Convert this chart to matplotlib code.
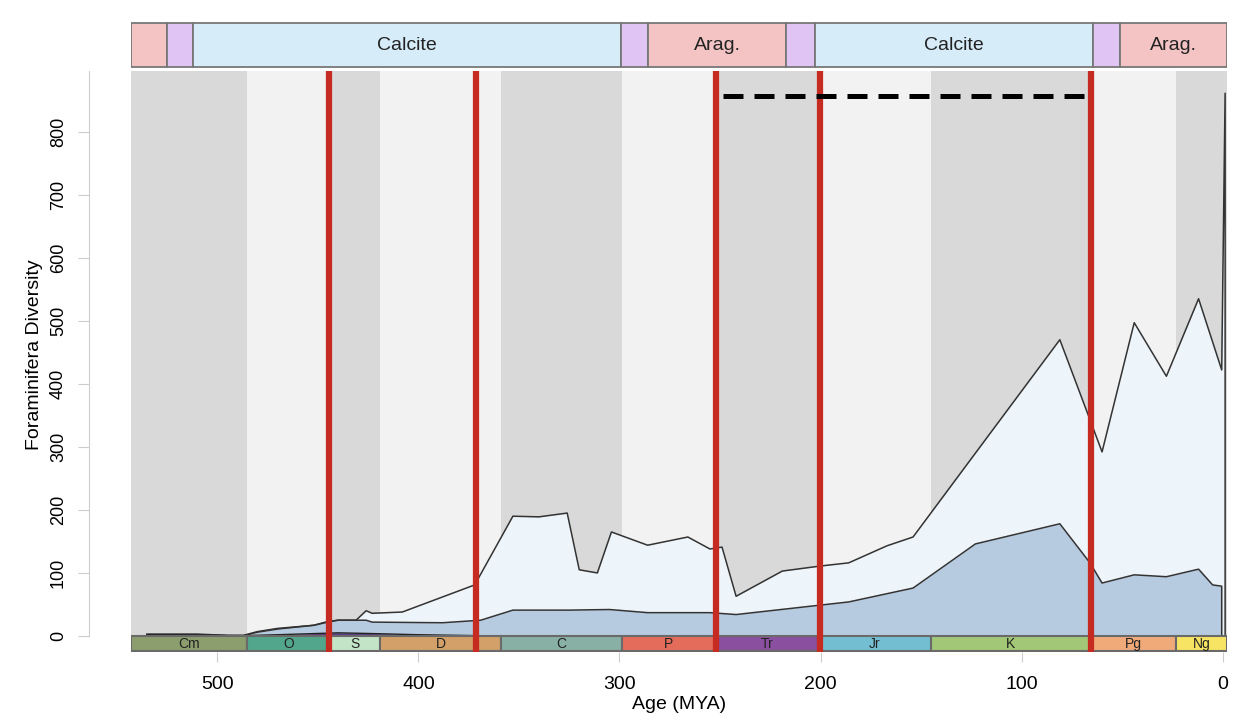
import matplotlib.pyplot as plt
from matplotlib.patches import Rectangle

plt.rcParams['font.family'] = ['Liberation Sans', 'DejaVu Sans']

# geological periods (start, end, label, colour)
per_start = [541, 485.4, 443.8, 419.2, 358.9, 298.9, 251.9, 201.3, 145.0, 66.0, 23.0]
per_end = [485.4, 443.8, 419.2, 358.9, 298.9, 251.9, 201.3, 145.0, 66.0, 23.0, 0]
per_lab = ['Cm', 'O', 'S', 'D', 'C', 'P', 'Tr', 'Jr', 'K', 'Pg', 'Ng']
per_col = ['#8c9e6e', '#52a68b', '#c4e4c8', '#d2a068', '#88b0a4', '#e36d5a',
           '#8b4f9f', '#73bfd1', '#a2c877', '#f0aa7a', '#f7e463']

# sea chemistry bar
chem_start = [541, 525, 512, 299, 286, 217, 203, 64.5, 51]
chem_end = [525, 512, 299, 286, 217, 203, 64.5, 51, 0]
chem_lab = ['', '', 'Calcite', '', 'Arag.', '', 'Calcite', '', 'Arag.']
chem_col = ['#f4c4c4', '#e0c4f4', '#d6ecf9', '#e0c4f4', '#f4c4c4',
            '#e0c4f4', '#d6ecf9', '#e0c4f4', '#f4c4c4']

# mass extinctions
extinctions = [444.5, 371.5, 252, 200.5, 65.5]

# diversity curves
age_tot = [535, 510, 495, 487, 480, 470, 452, 445, 440, 431, 426, 423, 408, 372,
           353, 340, 326, 320, 311, 304, 286, 266, 255, 249, 242, 219, 200,
           186, 167, 154, 123, 81, 66, 60, 44, 28, 12, 0.5, -1.2]
div_tot = [3, 3, 1, 1, 7, 12, 17, 23, 25, 25, 40, 36, 38, 81,
           190, 189, 195, 105, 100, 165, 144, 157, 138, 141, 63, 103, 111,
           116, 143, 157, 290, 470, 343, 292, 497, 412, 535, 422, 861]

age_mid = [535, 510, 495, 487, 480, 470, 452, 445, 440, 431, 426, 423, 388, 369,
           353, 340, 325, 305, 286, 255, 242, 200, 186, 154, 123, 81, 66,
           60, 44, 28, 12, 5, 0.5]
div_mid = [2, 2, 0.5, 0.5, 6, 11, 17, 22, 25, 25, 25, 22, 21, 25,
           41, 41, 41, 42, 37, 37, 34, 49, 54, 76, 146, 178, 116,
           84, 97, 94, 106, 81, 79]

age_low = [535, 487, 470, 450, 440, 425, 400, 380, 360, 0]
div_low = [2, 0.5, 2, 4, 5, 4, 2, 1, 0, 0]

xmin, xmax = 542.9, -2.0
ymin, ymax = -25.4, 896.3

fig = plt.figure(figsize=(12.41, 7.25), dpi=100)
ax = fig.add_axes([0.1056, 0.1007, 0.8829, 0.8014])
top = fig.add_axes([0.1056, 0.9062, 0.8829, 0.0634])

# alternating shading per period
for i in range(len(per_start)):
    c = '#d9d9d9' if i % 2 == 0 else '#f2f2f2'
    ax.axvspan(per_start[i] if i > 0 else xmin, per_end[i] if i < len(per_end) - 1 else xmax,
               color=c, lw=0, zorder=0)

ax.fill_between(age_tot, 0, div_tot, color='#eef5fa', lw=0, zorder=1)
ax.fill_between(age_mid, 0, div_mid, color='#b7cbe0', lw=0, zorder=2)
ax.fill_between(age_low, 0, div_low, color='#5e3c8a', lw=0, zorder=3)
# outline of the total polygon, closed down the right edge
ax.plot(age_tot + [age_tot[-1]], div_tot + [0], color='#333333', lw=1.1, zorder=4)
ax.plot(age_mid + [age_mid[-1]], div_mid + [0], color='#333333', lw=1.1, zorder=4)
ax.plot(age_low, div_low, color='#222222', lw=1.0, zorder=4)

# period bar
for i in range(len(per_start)):
    x0 = per_start[i] if i > 0 else xmin
    x1 = per_end[i] if i < len(per_end) - 1 else xmax - 0.3
    ax.add_patch(Rectangle((x1, ymin + 1.5), x0 - x1, -ymin - 1.5, facecolor=per_col[i],
                           edgecolor='#6a6a6a', lw=1.5, zorder=5))
    ax.text((x0 + x1) / 2, ymin / 2, per_lab[i], ha='center', va='center',
            fontsize=10, color='#222222', zorder=6)

for e in extinctions:
    ax.axvline(e, color='#c62b22', lw=4.5, zorder=7)

ax.plot([248.5, 68.5], [856, 856], color='black', lw=3.6, ls=(0, (4, 2.2)), zorder=8)

ax.set_xlim(xmin, xmax)
ax.set_ylim(ymin, ymax)
for s in ['top', 'right', 'bottom']:
    ax.spines[s].set_visible(False)
ax.spines['left'].set_position(('outward', 30.2))
ax.spines['left'].set_color('#cccccc')
ax.spines['left'].set_bounds(0, ymax)
ax.set_yticks(range(0, 900, 100))
ax.set_xticks(range(500, -1, -100))
ax.tick_params(axis='y', length=8, color='#cccccc', labelsize=13, labelrotation=90, pad=8)
ax.tick_params(axis='x', length=7.5, color='#cccccc', labelsize=14, pad=10)
for t in ax.get_yticklabels():
    t.set_va('center')
ax.set_ylabel('Foraminifera Diversity', fontsize=14)
ax.yaxis.set_label_coords(-0.08, 0.511)
ax.set_xlabel('Age (MYA)', fontsize=14, labelpad=2)

# carbonate chemistry bar
for i in range(len(chem_start)):
    x0 = chem_start[i] if i > 0 else xmin
    x1 = chem_end[i] if i < len(chem_end) - 1 else xmax - 0.3
    top.add_patch(Rectangle((x1, 0.02), x0 - x1, 0.96, facecolor=chem_col[i],
                            edgecolor='#777777', lw=1.3))
    if chem_lab[i]:
        top.text((x0 + x1) / 2, 0.5, chem_lab[i], ha='center', va='center', fontsize=14, color='#222222')
top.set_xlim(xmin, xmax)
top.set_ylim(0, 1)
top.axis('off')

fig.savefig('out.png', dpi=100)
